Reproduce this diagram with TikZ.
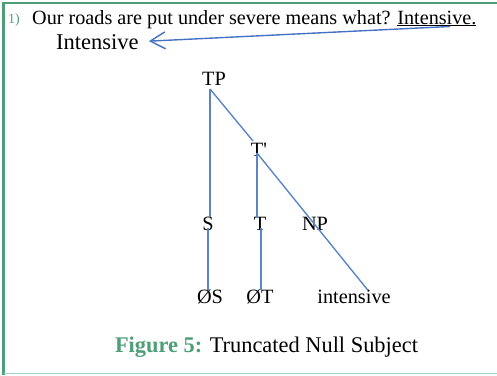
\documentclass[tikz,border=0pt]{standalone}
\usepackage{fontspec}
\setmainfont{Liberation Serif}
\usetikzlibrary{arrows.meta}
\definecolor{frameGreen}{HTML}{4E9E78}
\definecolor{frameLight}{HTML}{A6D6C6}
\definecolor{treeBlue}{HTML}{5B86C5}
\definecolor{arrowBlue}{HTML}{4472C4}
\tikzset{
  lbl/.style={inner sep=0pt, anchor=base, font=\fontsize{20.3}{23}\selectfont},
  branch/.style={draw=treeBlue, line width=1.4pt},
  pointer/.style={draw=arrowBlue, line width=1.4pt, -{Straight Barb[length=15pt,width=17pt,line width=1.4pt]}},
  hdr/.style={inner sep=0pt, anchor=base west, font=\fontsize{20.2}{24}\selectfont}
}
\begin{document}
\begin{tikzpicture}[x=1pt,y=-1pt]
\useasboundingbox (0,0) rectangle (497,375);
% frame
\draw[frameGreen, line width=2.4pt] (3.5,375) -- (3.5,3) -- (497,3);
\draw[frameLight, line width=1.6pt] (3.5,373.5) -- (497,373.5);

% question line
\node[hdr, font=\fontsize{14}{16}\selectfont, text=frameGreen] (num) at (8,23) {1)};
\node[hdr] (q) at (32,24) {Our roads are put under severe means what? \underline{Intensive.}};
\node[hdr, font=\fontsize{22.5}{26}\selectfont] (ans) at (56,49.5) {Intensive};
\coordinate (tail) at (450,26.5);
\draw[pointer] (tail) -- ([xshift=10pt,yshift=1pt]ans.east);

% tree labels
\node[lbl] (TP) at (214,85) {TP};
\node[lbl] (Tb) at (259,156.5) {T\textquotesingle};
\node[lbl] (S) at (208,230) {S};
\node[lbl] (T) at (260,230) {T};
\node[lbl] (NP) at (315,230) {NP};
\node[lbl] (nS) at (210,303) {ØS};
\node[lbl] (nT) at (260,303) {ØT};
\node[lbl] (int) at (354,303) {intensive};

% branch junctions
\coordinate (tpFoot) at (210,89);
\coordinate (tbFoot) at (257,153);

% branches
\draw[branch] (tpFoot) -- ([yshift=-1pt]tpFoot |- S.north);
\draw[branch] (tpFoot) -- ([xshift=-6pt,yshift=2pt]Tb.north);
\draw[branch] (tbFoot) -- ([yshift=-1pt]tbFoot |- T.north);
\draw[branch] (tbFoot) -- ([xshift=14pt,yshift=-1pt]int.north);
\draw[branch] ([yshift=2pt]S.south) -- ([yshift=-1pt]S.south |- nS.north);
\draw[branch] ([xshift=1pt,yshift=2pt]T.south) -- ([xshift=1pt,yshift=-1pt]T.south |- nT.north);

% caption
\node[inner sep=0pt, anchor=base, font=\fontsize{22.4}{26}\selectfont] (cap) at (266.5,352)
  {\textcolor{frameGreen}{\textbf{Figure 5:}} Truncated Null Subject};
\end{tikzpicture}
\end{document}
